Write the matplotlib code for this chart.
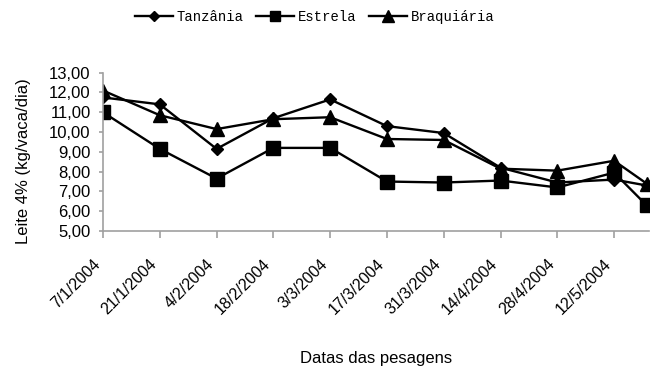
import datetime as dt
import matplotlib
matplotlib.use('Agg')
import matplotlib.pyplot as plt
import matplotlib.dates as mdates
from matplotlib.ticker import FuncFormatter

# weighing dates (last one has no tick label)
dates = [dt.date(2004, 1, 7), dt.date(2004, 1, 21), dt.date(2004, 2, 4),
         dt.date(2004, 2, 18), dt.date(2004, 3, 3), dt.date(2004, 3, 17),
         dt.date(2004, 3, 31), dt.date(2004, 4, 14), dt.date(2004, 4, 28),
         dt.date(2004, 5, 12), dt.date(2004, 5, 20)]
tick_dates = dates[:10]

tanzania = [11.75, 11.4, 9.15, 10.7, 11.65, 10.3, 9.95, 8.2, 7.45, 7.6, 7.3]
estrela = [11.0, 9.15, 7.65, 9.2, 9.2, 7.5, 7.45, 7.55, 7.2, 7.95, 6.3]
braquiaria = [12.1, 10.85, 10.15, 10.65, 10.75, 9.65, 9.6, 8.15, 8.05, 8.55, 7.4]

plt.rcParams['font.family'] = ['Liberation Sans', 'DejaVu Sans']

fig = plt.figure(figsize=(6.59, 3.69), dpi=100)
ax = fig.add_axes([103 / 659, 1 - 231 / 369, 546 / 659, 158.3 / 369])

ax.plot(dates, tanzania, color='black', lw=1.7, marker='D', markersize=6.5, label='Tanzânia')
ax.plot(dates, estrela, color='black', lw=1.7, marker='s', markersize=9.5, label='Estrela')
ax.plot(dates, braquiaria, color='black', lw=1.7, marker='^', markersize=10, label='Braquiária')

ax.set_ylim(5, 13)
ax.set_yticks(range(5, 14))
ax.yaxis.set_major_formatter(FuncFormatter(lambda v, p: f'{v:.2f}'.replace('.', ',')))
ax.set_xlim(mdates.date2num(dates[0]), mdates.date2num(dates[-1]) + 0.6)
ax.set_xticks([mdates.date2num(d) for d in tick_dates])
ax.set_xticklabels([f'{d.day}/{d.month}/{d.year}' for d in tick_dates],
                   rotation=45, ha='right', va='top', fontsize=11.5)

for s in ['top', 'right']:
    ax.spines[s].set_visible(False)
for s in ['left', 'bottom']:
    ax.spines[s].set_color('#a0a0a0')
    ax.spines[s].set_linewidth(1.2)
ax.tick_params(axis='both', colors='#a0a0a0', labelcolor='black', width=1.2)
ax.tick_params(axis='y', length=3, pad=6, labelsize=12)
ax.tick_params(axis='x', length=5, pad=13)

ax.set_ylabel('Leite 4% (kg/vaca/dia)', fontsize=12)
ax.yaxis.set_label_coords(-0.132, 0.44)
ax.set_xlabel('Datas das pesagens', fontsize=12)
ax.xaxis.set_label_coords(0.5, -0.755)

fig.legend(loc='center', bbox_to_anchor=(315 / 659, 1 - 17 / 369), ncol=3, frameon=False,
           prop={'family': 'Liberation Mono', 'size': 10}, handlelength=2.7,
           handletextpad=0.3, columnspacing=0.9, markerscale=0.8)

fig.savefig('out.png', dpi=100)
